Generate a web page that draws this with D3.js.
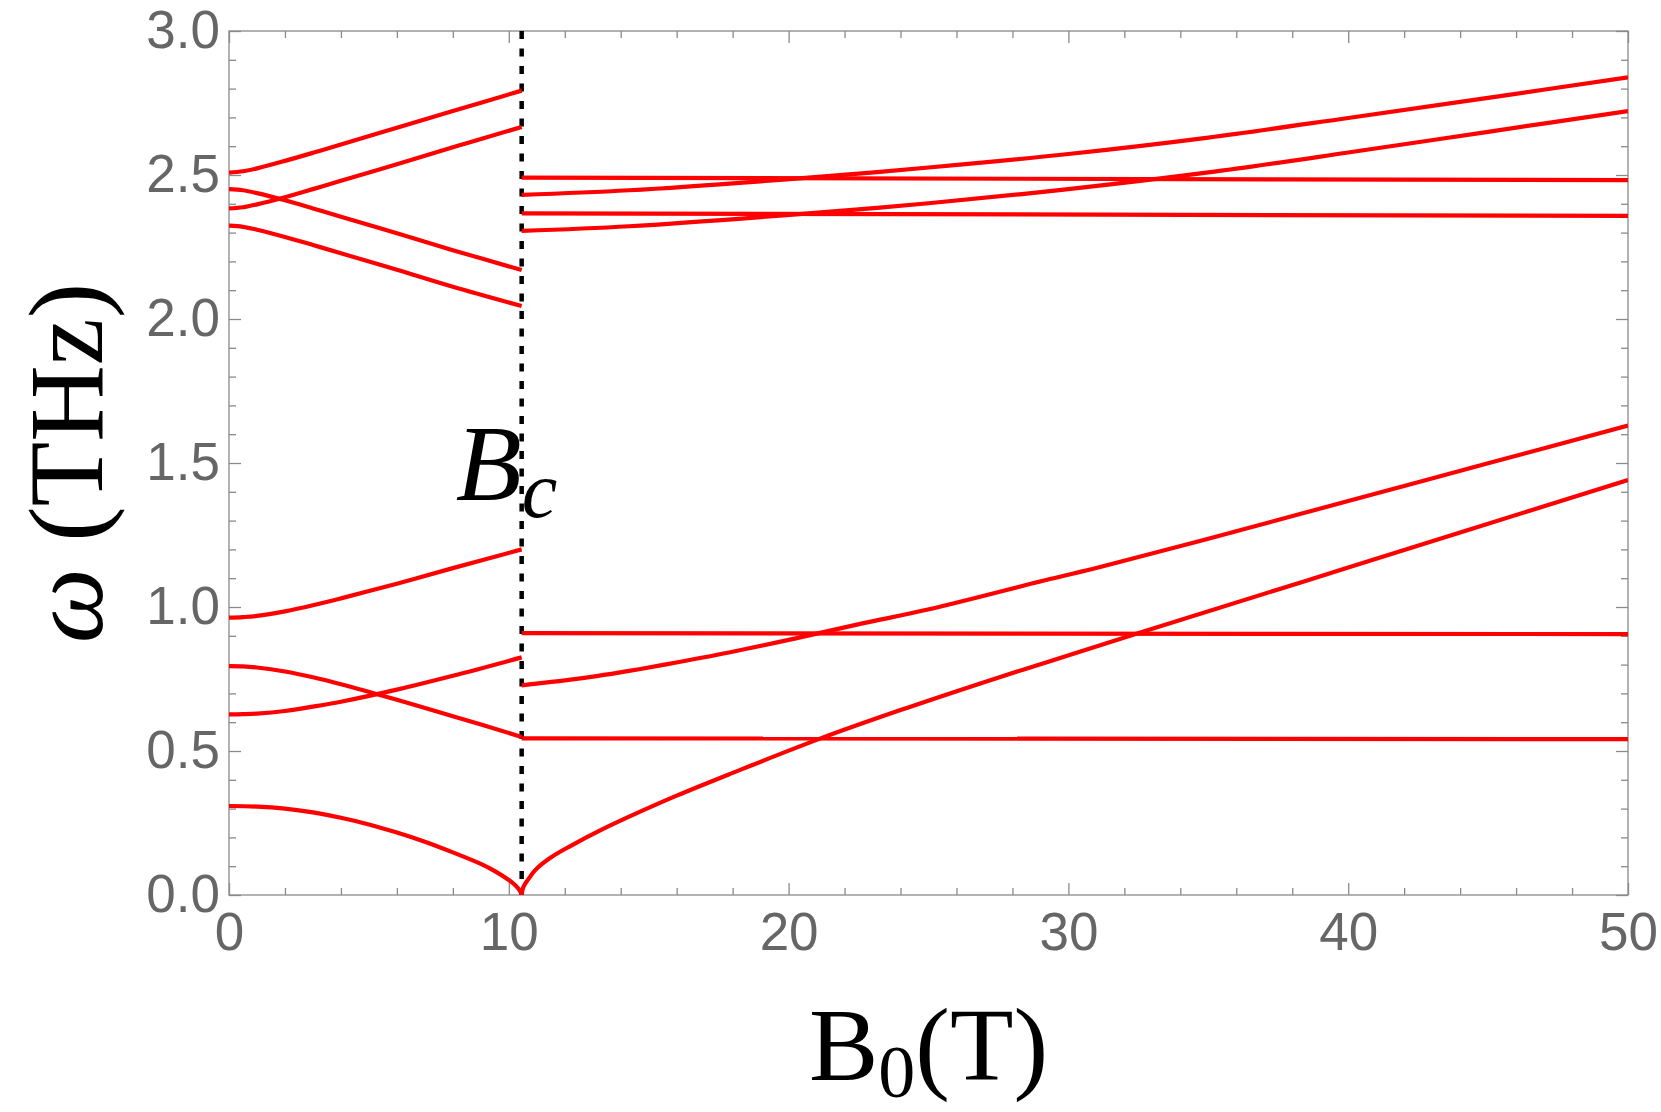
<!DOCTYPE html>
<html>
<head>
<meta charset="utf-8">
<script src="https://cdn.jsdelivr.net/npm/d3@7"></script>
<style>
  body { margin: 0; background: #fff; }
</style>
</head>
<body>
<script>
// critical field (T)
var bc = 10.46;

// below Bc : field samples and mode frequencies (THz)
var bLeft = [0, 0.5, 1, 2, 3, 4, 6, 8, 10.46];
var leftA = [2.508, 2.513, 2.523, 2.549, 2.577, 2.606, 2.664, 2.722, 2.793];
var leftB = [2.384, 2.388, 2.398, 2.423, 2.451, 2.480, 2.537, 2.596, 2.667];
var leftC = [2.451, 2.447, 2.437, 2.412, 2.384, 2.355, 2.298, 2.239, 2.170];
var leftD = [2.324, 2.320, 2.310, 2.285, 2.257, 2.228, 2.171, 2.112, 2.045];
var leftE = [0.963, 0.965, 0.969, 0.985, 1.006, 1.030, 1.081, 1.135, 1.200];
var leftF = [0.795, 0.794, 0.790, 0.776, 0.756, 0.732, 0.678, 0.621, 0.549];
var leftG = [0.627, 0.628, 0.630, 0.639, 0.654, 0.671, 0.713, 0.761, 0.825];

var bSoft = [0, 1, 2, 3, 4, 5, 6, 7, 8, 9, 9.5, 10, 10.25, 10.4, 10.46];
var softLeft = [0.309, 0.307, 0.300, 0.287, 0.268, 0.245, 0.217, 0.185, 0.148, 0.108, 0.083, 0.052, 0.032, 0.014, 0];

// above Bc
var bFlat = [10.46, 50];
var flat1 = [2.491, 2.482];
var flat2 = [2.367, 2.358];
var flat3 = [0.909, 0.906];
var flat4 = [0.544, 0.541];

var bUp = [10.46, 14.3, 20.6, 25, 30, 35, 40, 45, 50];
var rise1 = [2.431, 2.447, 2.490, 2.526, 2.573, 2.630, 2.698, 2.768, 2.839];
var rise2 = [2.306, 2.322, 2.366, 2.402, 2.451, 2.509, 2.578, 2.650, 2.722];

var bMid = [10.46, 11, 12, 13.14, 14.3, 15.52, 17.87, 20.29, 22.64, 25.02, 29.34, 31.1, 35, 40, 45, 50];
var rise3 = [0.728, 0.734, 0.745, 0.760, 0.778, 0.799, 0.842, 0.892, 0.943, 0.992, 1.097, 1.138, 1.237, 1.368, 1.499, 1.630];

var bLow = [10.46, 10.52, 10.7, 10.96, 11.5, 12.2, 13.3, 14.3, 16, 18, 21.1, 24, 27.4, 29.34, 32.4, 40, 50];
var softRight = [0, 0.028, 0.055, 0.088, 0.130, 0.170, 0.226, 0.272, 0.345, 0.424, 0.542, 0.642, 0.752, 0.812, 0.906, 1.137, 1.441];

var xMajor = [0, 10, 20, 30, 40, 50];
var yMajor = [0, 0.5, 1, 1.5, 2, 2.5, 3];

var branches = [
  [bLeft, leftA], [bLeft, leftB], [bLeft, leftC], [bLeft, leftD],
  [bLeft, leftE], [bLeft, leftF], [bLeft, leftG], [bSoft, softLeft],
  [bFlat, flat1], [bFlat, flat2], [bFlat, flat3], [bFlat, flat4],
  [bUp, rise1], [bUp, rise2], [bMid, rise3], [bLow, softRight]
];

var w = 1661, h = 1112;
var margin = {top: 31, right: 33, bottom: 217, left: 229};
var iw = w - margin.left - margin.right;
var ih = h - margin.top - margin.bottom;

var svg = d3.select("body").append("svg")
    .attr("width", w)
    .attr("height", h);

var x = d3.scaleLinear().domain([0, 50]).range([0, iw]);
var y = d3.scaleLinear().domain([0, 3]).range([ih, 0]);

var g = svg.append("g")
    .attr("transform", "translate(" + margin.left + "," + margin.top + ")");

g.append("clipPath").attr("id", "clip")
  .append("rect").attr("width", iw).attr("height", ih);

//minor ticks
var xMinor = d3.range(0, 51, 2).filter(function(d) { return d % 10 !== 0; });
var yMinor = d3.range(0, 31).map(function(d) { return d / 10; })
    .filter(function(d) { return Math.round(d * 10) % 5 !== 0; });

function tickStyle(sel) {
  sel.select(".domain").remove();
  sel.selectAll(".tick line").attr("stroke", "#8a8a8a").attr("stroke-width", 1.3);
  sel.selectAll(".tick text")
    .attr("fill", "#666")
    .style("font-family", "'Liberation Sans', Arial, sans-serif")
    .style("font-size", "53px");
}

g.append("g").attr("transform", "translate(0," + ih + ")")
  .call(d3.axisBottom(x).tickValues(xMajor).tickSize(-12).tickPadding(17).tickFormat(d3.format("d")))
  .call(tickStyle);
g.append("g").attr("transform", "translate(0," + ih + ")")
  .call(d3.axisBottom(x).tickValues(xMinor).tickSize(-7).tickFormat(""))
  .call(tickStyle);
g.append("g")
  .call(d3.axisTop(x).tickValues(xMajor).tickSize(-12).tickFormat(""))
  .call(tickStyle);
g.append("g")
  .call(d3.axisTop(x).tickValues(xMinor).tickSize(-7).tickFormat(""))
  .call(tickStyle);

g.append("g")
  .call(d3.axisLeft(y).tickValues(yMajor).tickSize(-12).tickPadding(9).tickFormat(d3.format(".1f")))
  .call(tickStyle);
g.append("g")
  .call(d3.axisLeft(y).tickValues(yMinor).tickSize(-7).tickFormat(""))
  .call(tickStyle);
g.append("g").attr("transform", "translate(" + iw + ",0)")
  .call(d3.axisRight(y).tickValues(yMajor).tickSize(-12).tickFormat(""))
  .call(tickStyle);
g.append("g").attr("transform", "translate(" + iw + ",0)")
  .call(d3.axisRight(y).tickValues(yMinor).tickSize(-7).tickFormat(""))
  .call(tickStyle);

// frame
g.append("rect")
  .attr("width", iw)
  .attr("height", ih)
  .attr("fill", "none")
  .attr("stroke", "#8a8a8a")
  .attr("stroke-width", 1.3);

// Bc marker
g.append("line")
  .attr("x1", x(bc)).attr("x2", x(bc))
  .attr("y1", 0).attr("y2", ih)
  .attr("stroke", "#000")
  .attr("stroke-width", 4.5)
  .attr("stroke-dasharray", "8,9.5");

var line = d3.line()
    .x(function(d) { return x(d[0]); })
    .y(function(d) { return y(d[1]); })
    .curve(d3.curveCatmullRom.alpha(0.5));

g.append("g").attr("clip-path", "url(#clip)")
  .selectAll("path")
  .data(branches)
  .enter()
  .append("path")
  .attr("d", function(d) { return line(d3.zip(d[0], d[1])); })
  .attr("fill", "none")
  .attr("stroke", "#ff0000")
  .attr("stroke-width", 4.2)
  .attr("stroke-linejoin", "round");

// Bc label
var bcLabel = g.append("text")
  .attr("x", x(bc) - 66)
  .attr("y", y(1.37))
  .style("font-family", "'Liberation Serif', 'Times New Roman', serif")
  .style("font-style", "italic")
  .style("font-size", "108px")
  .attr("fill", "#000");
bcLabel.append("tspan").text("B");
bcLabel.append("tspan").attr("dy", 17).style("font-size", "80px").text("c");

// axis titles
var xt = svg.append("text")
  .attr("x", margin.left + iw / 2)
  .attr("y", 1080)
  .attr("text-anchor", "middle")
  .style("font-family", "'Liberation Serif', 'Times New Roman', serif")
  .style("font-size", "104px")
  .attr("fill", "#000");
xt.append("tspan").text("B");
xt.append("tspan").attr("dy", 17).style("font-size", "74px").text("0");
xt.append("tspan").attr("dy", -17).text("(T)");

var yt = svg.append("text")
  .attr("transform", "translate(102," + (margin.top + ih / 2) + ") rotate(-90)")
  .attr("text-anchor", "middle")
  .style("font-family", "'Liberation Serif', 'Times New Roman', serif")
  .style("font-size", "106px")
  .attr("fill", "#000");
yt.append("tspan").style("font-style", "italic").text("ω");
yt.append("tspan").text(" (THz)");
</script>
</body>
</html>
